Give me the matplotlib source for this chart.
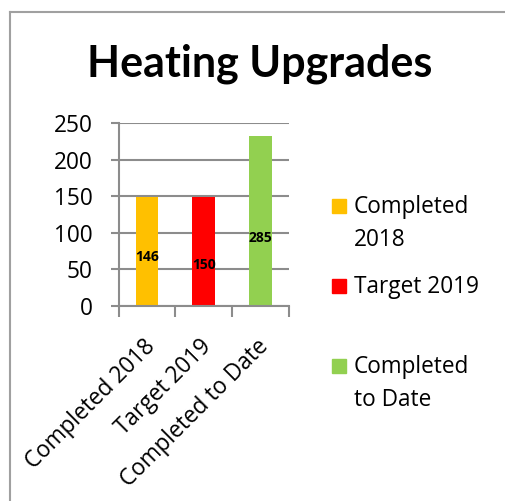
import matplotlib
matplotlib.use('Agg')
import matplotlib.pyplot as plt
import matplotlib.transforms as mtransforms
from matplotlib.patches import Rectangle
from matplotlib.lines import Line2D

# data
categories = ['Completed 2018', 'Target 2019', 'Completed to Date']
legend_labels = ['Completed\n2018', 'Target 2019', 'Completed\nto Date']
bar_heights = [149, 149, 233]
bar_labels = ['146', '150', '285']
colors = ['#ffc000', '#ff0000', '#92d050']
yticks = [0, 50, 100, 150, 200, 250]

label_frac = [0.45, 0.38, 0.40]  # where the value label sits within the bar

plt.rcParams['font.family'] = ['Open Sans', 'DejaVu Sans']
grey = '#8c8c8c'
fs = 16.3

fig = plt.figure(figsize=(5.06, 5.01), dpi=100)
W, H = 506, 501

# frame of the chart area (only left and top visible)
fig.add_artist(Line2D([10 / W, 10 / W], [0, 1 - 12 / H], color='#a0a0a0', lw=1.5))
fig.add_artist(Line2D([10 / W, 1], [1 - 12 / H, 1 - 12 / H], color='#a0a0a0', lw=1.5))

ax = fig.add_axes([118.7 / W, 1 - 306 / H, (289 - 118.7) / W, (306 - 123.3) / H])
x = range(len(categories))
ax.bar(x, bar_heights, width=0.4, color=colors, zorder=3)
for i, (h, lab) in enumerate(zip(bar_heights, bar_labels)):
    ax.text(i, h * label_frac[i], lab, ha='center', va='center',
            fontsize=10, fontweight='bold', zorder=4)

ax.set_xlim(-0.5, 2.5)
ax.set_ylim(0, 250)
ax.set_yticks(yticks)
ax.set_yticklabels([str(v) for v in yticks], fontsize=fs)
ax.yaxis.grid(True, color=grey, lw=1.5, zorder=0)
ax.tick_params(axis='y', length=6, width=1.5, color=grey, pad=13)
ax.tick_params(axis='x', length=0)
ax.set_xticks(list(x))
ax.set_xticklabels(categories, rotation=45, ha='right', rotation_mode='anchor',
                   fontsize=fs)
shift = mtransforms.ScaledTranslation(-4 / 100, -6 / 100, fig.dpi_scale_trans)
for t in ax.get_xticklabels():
    t.set_y(-0.1)
    t.set_transform(t.get_transform() + shift)
ax.set_xticks([-0.5, 0.5, 1.5, 2.5], minor=True)
ax.tick_params(axis='x', which='minor', length=8, width=1.5, color=grey)
for s in ['top', 'right']:
    ax.spines[s].set_visible(False)
for s in ['left', 'bottom']:
    ax.spines[s].set_color(grey)
    ax.spines[s].set_linewidth(1.5)
ax.spines['bottom'].set_zorder(5)

fig.text(259.5 / W, 1 - 76 / H, 'Heating Upgrades', ha='center', va='baseline',
         fontsize=31, fontweight='bold', family=['Lato', 'DejaVu Sans'])

# legend drawn by hand to keep Excel-like spacing
leg_base = [213, 293, 373]
line_gap = 33
for c, lab, yb in zip(colors, legend_labels, leg_base):
    fig.add_artist(Rectangle((332 / W, 1 - yb / H), 14.5 / W, 14.5 / H,
                             color=c, transform=fig.transFigure))
    for k, line in enumerate(lab.split('\n')):
        fig.text(354 / W, 1 - (yb + k * line_gap) / H, line, ha='left',
                 va='baseline', fontsize=fs)

fig.savefig('out.png', dpi=100)
